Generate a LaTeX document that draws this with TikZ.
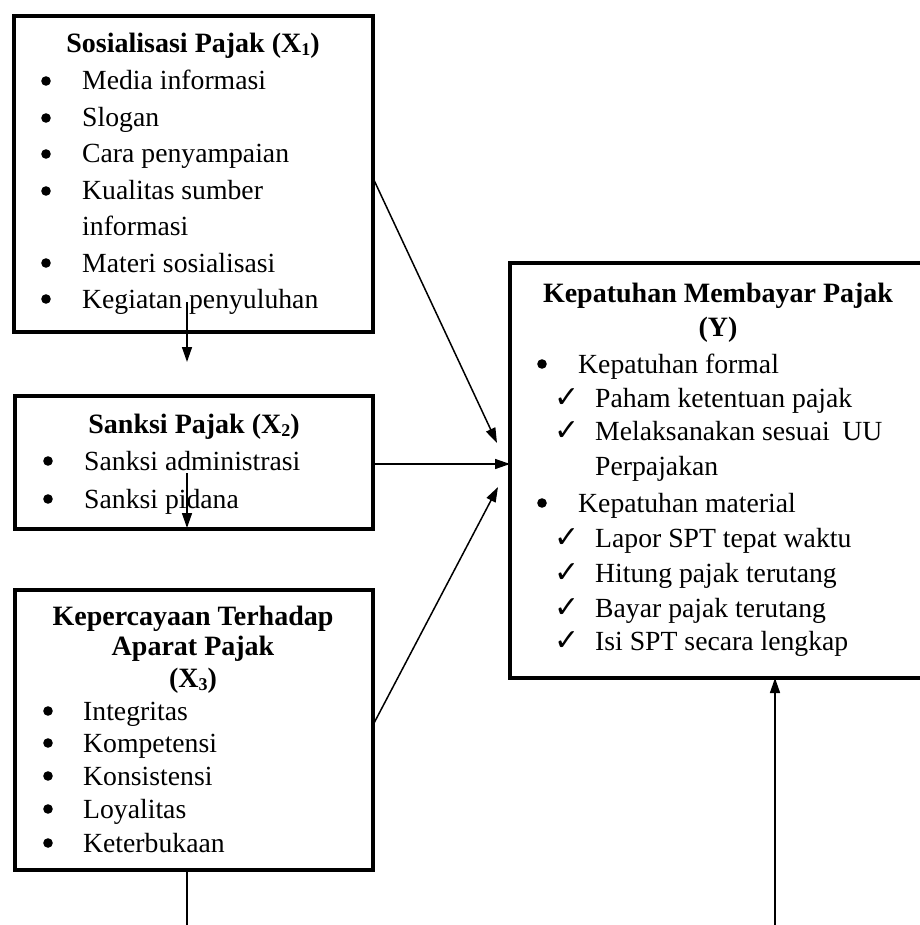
\documentclass[tikz,border=0pt]{standalone}
\usepackage{fontspec}
\setmainfont{Liberation Serif}
\newfontfamily\symfont{DejaVu Sans}
\usetikzlibrary{arrows.meta}
\newcommand\sbs[1]{{\fontsize{18}{18}\selectfont\raisebox{-3pt}{#1}}}
\begin{document}
\begin{tikzpicture}[x=1pt,y=1pt,
 box/.style={draw, line width=4pt, inner sep=0pt, outer sep=0pt, anchor=north west},
 txt/.style={anchor=base west, inner sep=0pt, font=\fontsize{27.7}{32}\selectfont},
 ttl/.style={anchor=base, inner sep=0pt, font=\fontsize{28}{32}\selectfont\bfseries},
 chk/.style={anchor=base west, inner sep=0pt, font=\fontsize{30}{30}\selectfont\symfont},
 conn/.style={line width=1.5pt, -{Triangle[length=15pt,width=10pt]}},
 plain/.style={line width=1.5pt}]
\useasboundingbox (0,0) rectangle (919,-925);
% boxes
\node[box, minimum width=359pt, minimum height=316pt] (x1) at (14,-16) {};
\node[box, minimum width=358pt, minimum height=133pt] (x2) at (15,-396) {};
\node[box, minimum width=358pt, minimum height=280pt] (x3) at (15,-590) {};
\node[box, minimum width=480pt, minimum height=415pt] (y) at (510,-263) {};
% X1
\node[ttl] (t1) at (193,-53) {Sosialisasi Pajak (X\sbs{1})};
\foreach \b in {90,127,163,200,272,308} \fill (46,-\b+9) circle (4.8);
\node[txt] (a1) at (82,-90) {Media informasi};
\node[txt] (a2) at (82,-127) {Slogan};
\node[txt] (a3) at (82,-163) {Cara penyampaian};
\node[txt] (a4) at (82,-200) {Kualitas sumber};
\node[txt] (a5) at (82,-236) {informasi};
\node[txt] (a6) at (82,-272) {Materi sosialisasi};
\node[txt] (a7) at (82,-308) {Kegiatan penyuluhan};
% X2
\node[ttl] (t2) at (194,-433) {Sanksi Pajak (X\sbs{2})};
\foreach \b in {470,508} \fill (48,-\b+9) circle (4.8);
\node[txt] (b1) at (84,-470) {Sanksi administrasi};
\node[txt] (b2) at (84,-508) {Sanksi pidana};
% X3
\node[ttl] (t3a) at (193,-625) {Kepercayaan Terhadap};
\node[ttl] (t3b) at (193,-655) {Aparat Pajak};
\node[ttl] (t3c) at (193,-687) {(X\sbs{3})};
\foreach \b in {720,752,785,818,852} \fill (48,-\b+9) circle (4.8);
\node[txt] (c1) at (83,-720) {Integritas};
\node[txt] (c2) at (83,-752) {Kompetensi};
\node[txt] (c3) at (83,-785) {Konsistensi};
\node[txt] (c4) at (83,-818) {Loyalitas};
\node[txt] (c5) at (83,-852) {Keterbukaan};
% Y
\node[ttl] (t4a) at (718,-302) {Kepatuhan Membayar Pajak};
\node[ttl] (t4b) at (718,-336) {(Y)};
\foreach \b in {373,512} \fill (542,-\b+9) circle (4.8);
\node[txt] (d1) at (578,-373) {Kepatuhan formal};
\node[txt] (d2) at (578,-512) {Kepatuhan material};
\foreach \b/\n in {407/k1,440/k2,547/k3,582/k4,617/k5,650/k6} \node[chk] (\n) at (554,-\b) {✓};
\node[txt] (e1) at (595,-407) {Paham ketentuan pajak};
\node[txt] (e2) at (595,-440) {Melaksanakan sesuai\hspace{0.45em}UU};
\node[txt] (e3) at (595,-475) {Perpajakan};
\node[txt] (e4) at (595,-547) {Lapor SPT tepat waktu};
\node[txt] (e5) at (595,-582) {Hitung pajak terutang};
\node[txt] (e6) at (595,-617) {Bayar pajak terutang};
\node[txt] (e7) at (595,-650) {Isi SPT secara lengkap};
% connector points
\coordinate (p1s) at (x1.east |- 0,-178);
\coordinate (p1e) at (497,-443);
\coordinate (p2s) at (x2.east |- 0,-464);
\coordinate (p2e) at (y.west |- 0,-464);
\coordinate (p3s) at (x3.east |- 0,-725);
\coordinate (p3e) at (498,-487);
\coordinate (q1s) at (187,-302);
\coordinate (q1e) at (187,-362);
\coordinate (q2s) at (187,-473);
\coordinate (q2e) at (187,-528);
\coordinate (q3s) at (x3.south -| 187,0);
\coordinate (q3e) at (187,-925);
\coordinate (u1s) at (775,-925);
\coordinate (u1e) at (y.south -| 775,0);
% connectors
\draw[conn] (p1s) -- (p1e);
\draw[conn] (p2s) -- (p2e);
\draw[conn] (p3s) -- (p3e);
\draw[conn] (q1s) -- (q1e);
\draw[conn] (q2s) -- (q2e);
\draw[plain] (q3s) -- (q3e);
\draw[conn] (u1s) -- (u1e);
\end{tikzpicture}
\end{document}
